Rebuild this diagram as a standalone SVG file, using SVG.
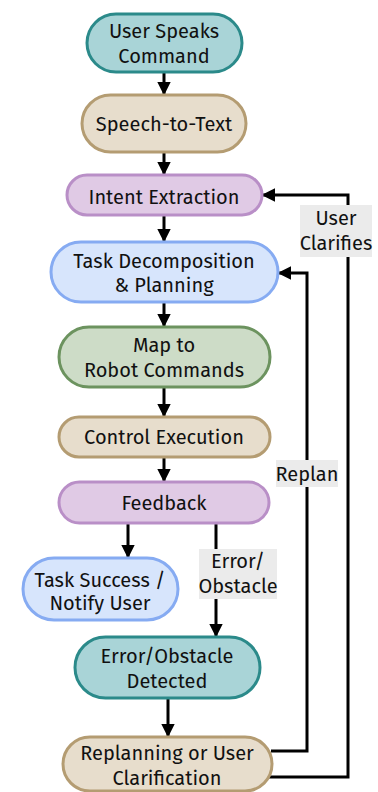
<svg xmlns="http://www.w3.org/2000/svg" width="378" height="792" viewBox="0 0 378 792">
  <style>
    .node { stroke-width: 3; }
    .teal { fill: #a9d4d7; stroke: #2b8a8a; }
    .sand { fill: #e7ddcc; stroke: #b49c72; }
    .lilac { fill: #e0cae5; stroke: #b98fc7; }
    .blue { fill: #d7e5fc; stroke: #86abf2; }
    .sage { fill: #cddcc7; stroke: #6c935f; }
    text { font-family: "Fira Sans", Lato, "Noto Sans", sans-serif; font-size: 20px; font-weight: 400; fill: #111; text-anchor: middle; }
    .edge { fill: none; stroke: #000; stroke-width: 3; }
    .tag { fill: #ebebeb; }
  </style>
  <defs>
    <marker id="arrow" viewBox="0 0 10 10" refX="9" refY="5" markerWidth="4.5" markerHeight="4.5" orient="auto" markerUnits="strokeWidth">
      <path d="M0,0 L10,5 L0,10 z" fill="#000"/>
    </marker>
  </defs>

  <g id="connectors">
    <path class="edge" d="M164,72 V94" marker-end="url(#arrow)"/>
    <path class="edge" d="M164,152 V174" marker-end="url(#arrow)"/>
    <path class="edge" d="M164,215 V241" marker-end="url(#arrow)"/>
    <path class="edge" d="M164,302 V326" marker-end="url(#arrow)"/>
    <path class="edge" d="M164,387 V416" marker-end="url(#arrow)"/>
    <path class="edge" d="M164,457 V481" marker-end="url(#arrow)"/>
    <path class="edge" d="M128,523 V557" marker-end="url(#arrow)"/>
    <path class="edge" d="M216,523 V636" marker-end="url(#arrow)"/>
    <path class="edge" d="M168,698 V736" marker-end="url(#arrow)"/>
    <path class="edge" d="M271,751 H307 V273 H279" marker-end="url(#arrow)"/>
    <path class="edge" d="M268,777 H348 V195 H263" marker-end="url(#arrow)"/>
    <rect class="tag" x="199" y="549" width="78" height="50"/>
    <text x="238" y="568">Error/</text>
    <text x="238" y="593">Obstacle</text>
    <rect class="tag" x="276" y="460" width="62" height="27"/>
    <text x="307" y="481">Replan</text>
    <rect class="tag" x="300" y="205" width="72" height="52"/>
    <text x="336" y="225">User</text>
    <text x="336" y="250">Clarifies</text>
  </g>

  <g id="user-speaks">
    <rect class="node teal" x="87" y="14" width="155" height="58" rx="29"/>
    <text x="164" y="38">User Speaks</text>
    <text x="164" y="63">Command</text>
  </g>
  <g id="speech-to-text">
    <rect class="node sand" x="82" y="95" width="164" height="57" rx="28.5"/>
    <text x="164" y="131">Speech-to-Text</text>
  </g>
  <g id="intent-extraction">
    <rect class="node lilac" x="67" y="175" width="195" height="40" rx="20"/>
    <text x="164" y="204">Intent Extraction</text>
  </g>
  <g id="task-decomposition">
    <rect class="node blue" x="51" y="242" width="227" height="60" rx="30"/>
    <text x="164" y="268">Task Decomposition</text>
    <text x="164" y="292">&amp; Planning</text>
  </g>
  <g id="map-to-robot">
    <rect class="node sage" x="59" y="327" width="211" height="60" rx="30"/>
    <text x="164" y="352">Map to</text>
    <text x="164" y="377">Robot Commands</text>
  </g>
  <g id="control-execution">
    <rect class="node sand" x="59" y="417" width="211" height="40" rx="20"/>
    <text x="164" y="444">Control Execution</text>
  </g>
  <g id="feedback">
    <rect class="node lilac" x="59" y="482" width="210" height="41" rx="20.5"/>
    <text x="164" y="510">Feedback</text>
  </g>
  <g id="task-success">
    <rect class="node blue" x="23" y="558" width="155" height="62" rx="31"/>
    <text x="100" y="587">Task Success /</text>
    <text x="100" y="610">Notify User</text>
  </g>
  <g id="error-detected">
    <rect class="node teal" x="75" y="637" width="185" height="61" rx="30.5"/>
    <text x="167" y="663">Error/Obstacle</text>
    <text x="167" y="688">Detected</text>
  </g>
  <g id="replanning">
    <rect class="node sand" x="63" y="737" width="209" height="54" rx="27"/>
    <text x="167" y="760">Replanning or User</text>
    <text x="167" y="785">Clarification</text>
  </g>
</svg>
